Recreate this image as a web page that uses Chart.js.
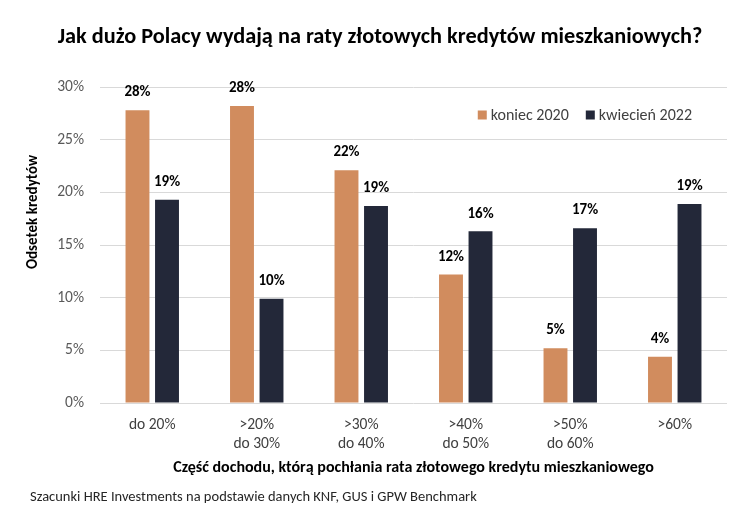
<!DOCTYPE html>
<html lang="pl">
<head>
<meta charset="utf-8">
<title>Raty złotowych kredytów mieszkaniowych</title>
<script src="https://cdn.jsdelivr.net/npm/chart.js@4/dist/chart.umd.min.js"></script>
<style>
  html, body { margin: 0; padding: 0; background: #fff; }
  #wrap { width: 746px; height: 522px; }
</style>
</head>
<body>
<div id="wrap"><canvas id="myChart" width="746" height="522"></canvas></div>
<script>
'use strict';

// Chart data
let categories = [['do 20%'], ['>20%', 'do 30%'], ['>30%', 'do 40%'], ['>40%', 'do 50%'], ['>50%', 'do 60%'], ['>60%']];
let end2020 = [27.8, 28.2, 22.1, 12.2, 5.2, 4.4];
let april2022 = [19.3, 9.9, 18.7, 16.3, 16.6, 18.9];
let seriesNames = ['koniec 2020', 'kwiecień 2022'];
let yTicks = [0, 5, 10, 15, 20, 25, 30];

// Texts
let chartTitle = 'Jak dużo Polacy wydają na raty złotowych kredytów mieszkaniowych?';
let xTitle = 'Część dochodu, którą pochłania rata złotowego kredytu mieszkaniowego';
let yTitle = 'Odsetek kredytów';
let footnote = 'Szacunki HRE Investments na podstawie danych KNF, GUS i GPW Benchmark';

let fontFamily = 'Carlito, Calibri, Lato, sans-serif';
let colors = ['#D18C5E', '#232839'];

// draws title, value labels, legend, y title and source line
let extrasPlugin = {
  id: 'extras',
  afterDatasetsDraw(chart) {
    let ctx = chart.ctx;
    let area = chart.chartArea;
    ctx.save();

    // main title
    ctx.font = 'bold 22.3px ' + fontFamily;
    ctx.fillStyle = '#000';
    ctx.textAlign = 'center';
    ctx.textBaseline = 'middle';
    ctx.fillText(chartTitle, 380, 37);

    // value labels above bars
    ctx.font = 'bold 15px ' + fontFamily;
    ctx.textBaseline = 'bottom';
    chart.data.datasets.forEach((ds, i) => {
      chart.getDatasetMeta(i).data.forEach((bar, j) => {
        ctx.fillText(Math.round(ds.data[j]) + '%', bar.x, bar.y - 10);
      });
    });

    // legend inside the plot, top right
    ctx.font = '16px ' + fontFamily;
    ctx.textAlign = 'left';
    ctx.textBaseline = 'middle';
    let widths = seriesNames.map(n => ctx.measureText(n).width);
    let total = widths.reduce((a, w) => a + 9 + 4 + w, 0) + 17 * (seriesNames.length - 1);
    let x = area.right - 35 - total;
    let y = area.top + 28;
    seriesNames.forEach((name, i) => {
      ctx.fillStyle = colors[i];
      ctx.fillRect(x, y - 4.5, 9, 9);
      ctx.fillStyle = '#404040';
      ctx.fillText(name, x + 13, y + 1);
      x += 13 + widths[i] + 17;
    });

    // rotated y-axis title
    ctx.save();
    ctx.translate(33, 212);
    ctx.rotate(-Math.PI / 2);
    ctx.font = 'bold 15px ' + fontFamily;
    ctx.fillStyle = '#000';
    ctx.textAlign = 'center';
    ctx.textBaseline = 'middle';
    ctx.fillText(yTitle, 0, 0);
    ctx.restore();

    // source line
    ctx.font = '14.5px ' + fontFamily;
    ctx.fillStyle = '#262626';
    ctx.textAlign = 'left';
    ctx.fillText(footnote, 30, 497);

    ctx.restore();
  }
};

let ctx = document.getElementById('myChart').getContext('2d');
let myChart = new Chart(ctx, { // eslint-disable-line
  type: 'bar',
  data: {
    labels: categories,
    datasets: [
      { label: seriesNames[0], data: end2020, backgroundColor: colors[0] },
      { label: seriesNames[1], data: april2022, backgroundColor: colors[1] }
    ]
  },
  options: {
    responsive: false,
    animation: false,
    layout: { padding: { left: 0, right: 19, top: 87, bottom: 0 } },
    datasets: {
      bar: { categoryPercentage: 0.565, barPercentage: 0.81 }
    },
    plugins: {
      legend: { display: false },
      tooltip: { enabled: false },
      title: { display: false }
    },
    scales: {
      x: {
        grid: { display: false, drawTicks: false },
        border: { display: false },
        ticks: {
          color: '#404040',
          padding: 12,
          maxRotation: 0,
          autoSkip: false,
          font: { family: fontFamily, size: 15.5, lineHeight: 1.25 }
        },
        title: {
          display: true,
          text: xTitle,
          color: '#000',
          font: { family: fontFamily, size: 16, weight: 'bold' },
          padding: { top: 0, bottom: 44.5 }
        },
        afterFit(scale) { scale.height = 119; }
      },
      y: {
        min: 0,
        max: 30,
        afterBuildTicks(scale) { scale.ticks = yTicks.map(v => ({ value: v })); },
        grid: { color: '#d9d9d9', drawTicks: false },
        border: { display: false },
        ticks: {
          color: '#595959',
          padding: 16,
          font: { family: fontFamily, size: 15.5 },
          callback: v => v + '%'
        },
        afterFit(scale) { scale.width = 100; }
      }
    }
  },
  plugins: [extrasPlugin]
});
</script>
</body>
</html>
